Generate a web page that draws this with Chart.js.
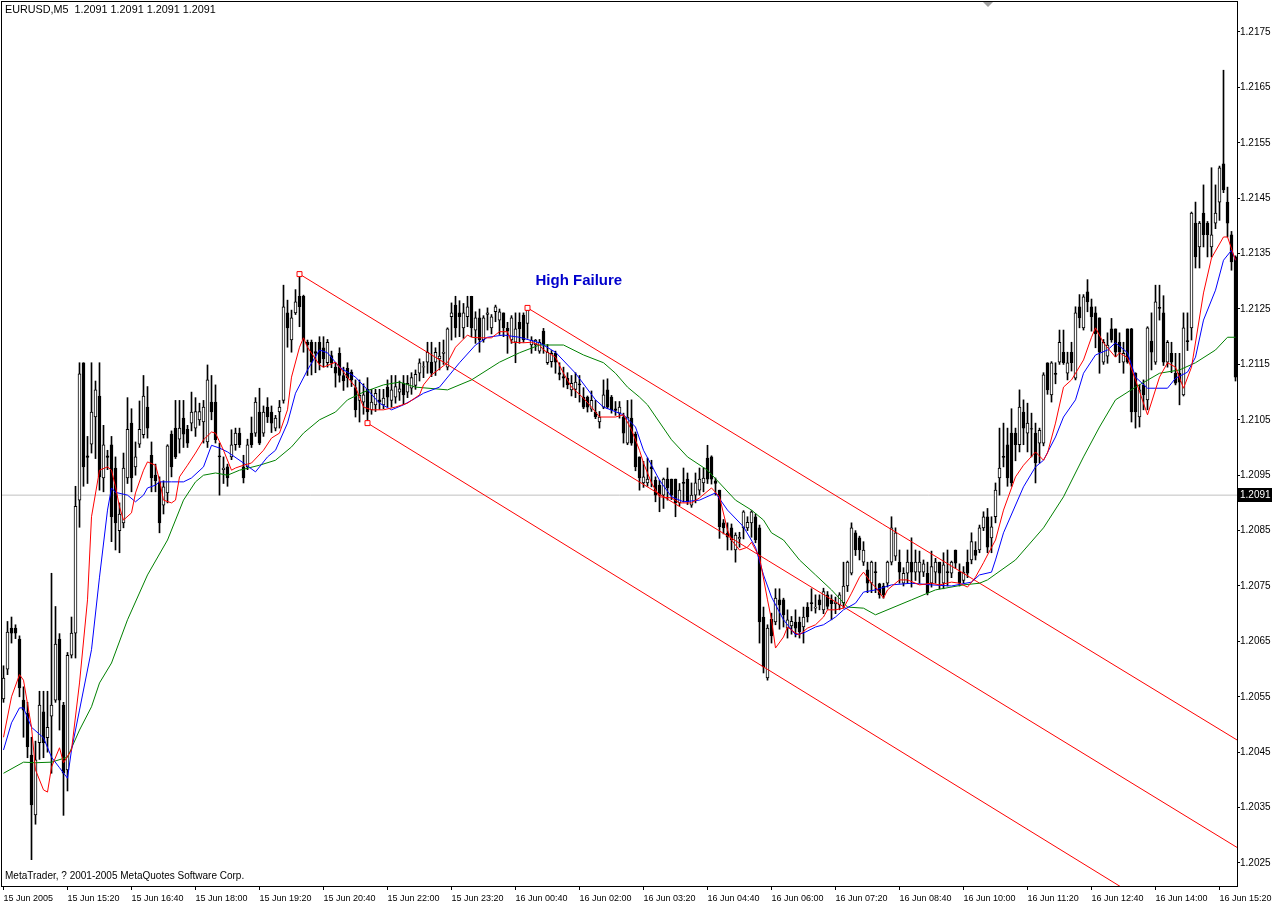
<!DOCTYPE html>
<html>
<head>
<meta charset="utf-8">
<script src="https://cdn.jsdelivr.net/npm/chart.js@4.4.1/dist/chart.umd.min.js"></script>
<style>
  html, body { margin: 0; padding: 0; background: #fff; overflow: hidden; }
  canvas { display: block; }
</style>
</head>
<body>
<canvas id="chart" width="1272" height="901"></canvas>
<script>
/* EURUSD M5 candles, 15-16 Jun 2005 */

const FONT = '"Liberation Sans", Arial, sans-serif';

// time axis: one label every 16 bars
const tickBars = [0, 16, 32, 48, 64, 80, 96, 112, 128, 144, 160, 176, 192, 208, 224, 240, 256, 272, 288, 304];
const timeLabels = ['15 Jun 2005', '15 Jun 15:20', '15 Jun 16:40', '15 Jun 18:00', '15 Jun 19:20', '15 Jun 20:40',
  '15 Jun 22:00', '15 Jun 23:20', '16 Jun 00:40', '16 Jun 02:00', '16 Jun 03:20', '16 Jun 04:40', '16 Jun 06:00',
  '16 Jun 07:20', '16 Jun 08:40', '16 Jun 10:00', '16 Jun 11:20', '16 Jun 12:40', '16 Jun 14:00', '16 Jun 15:20'];

const priceTicks = [1.2025, 1.2035, 1.2045, 1.2055, 1.2065, 1.2075, 1.2085, 1.2095,
  1.2105, 1.2115, 1.2125, 1.2135, 1.2145, 1.2155, 1.2165, 1.2175];

const openP = [
  1.20546, 1.20600, 1.20674, 1.20674, 1.20654, 1.20544, 1.20520, 1.20445, 1.20337, 1.20467,
  1.20523, 1.20476, 1.20515, 1.20544, 1.20654, 1.20535, 1.20418, 1.20625, 1.20665, 1.20905,
  1.21153, 1.20985, 1.21006, 1.21055, 1.21093, 1.20945, 1.20985, 1.21005, 1.20963, 1.20850,
  1.20864, 1.20945, 1.21044, 1.20965, 1.21006, 1.21023, 1.21073, 1.20986, 1.20950, 1.20938,
  1.20896, 1.20918, 1.21024, 1.21035, 1.21015, 1.21053, 1.21033, 1.21044, 1.21035, 1.21050,
  1.21046, 1.21010, 1.21082, 1.21082, 1.20985, 1.20960, 1.20965, 1.20983, 1.21005, 1.21026,
  1.20965, 1.20965, 1.21026, 1.21026, 1.21064, 1.21026, 1.21073, 1.21064, 1.21035, 1.21064,
  1.21085, 1.21243, 1.21194, 1.21243, 1.21273, 1.21273, 1.21190, 1.21190, 1.21173, 1.21190,
  1.21180, 1.21153, 1.21166, 1.21145, 1.21170, 1.21130, 1.21143, 1.21136, 1.21108, 1.21085,
  1.21082, 1.21105, 1.21068, 1.21077, 1.21086, 1.21077, 1.21109, 1.21085, 1.21091, 1.21100,
  1.21116, 1.21100, 1.21107, 1.21112, 1.21134, 1.21145, 1.21154, 1.21154, 1.21154, 1.21160,
  1.21170, 1.21145, 1.21236, 1.21257, 1.21243, 1.21216, 1.21236, 1.21273, 1.21212, 1.21234,
  1.21194, 1.21240, 1.21216, 1.21245, 1.21230, 1.21243, 1.21215, 1.21194, 1.21190, 1.21226,
  1.21239, 1.21224, 1.21185, 1.21185, 1.21174, 1.21210, 1.21153, 1.21155, 1.21170, 1.21135,
  1.21128, 1.21125, 1.21104, 1.21105, 1.21115, 1.21091, 1.21091, 1.21069, 1.21064, 1.21046,
  1.21073, 1.21104, 1.21091, 1.21070, 1.21062, 1.21055, 1.21008, 1.21053, 1.21024, 1.20983,
  1.20936, 1.20936, 1.20965, 1.20941, 1.20932, 1.20914, 1.20943, 1.20943, 1.20943, 1.20900,
  1.20937, 1.20943, 1.20896, 1.20914, 1.20923, 1.20936, 1.20981, 1.20983, 1.20940, 1.20923,
  1.20864, 1.20845, 1.20855, 1.20815, 1.20835, 1.20855, 1.20855, 1.20864, 1.20875, 1.20855,
  1.20694, 1.20584, 1.20690, 1.20685, 1.20725, 1.20725, 1.20674, 1.20678, 1.20685, 1.20685,
  1.20676, 1.20712, 1.20720, 1.20710, 1.20725, 1.20707, 1.20734, 1.20725, 1.20718, 1.20716,
  1.20720, 1.20750, 1.20773, 1.20846, 1.20837, 1.20793, 1.20779, 1.20755, 1.20776, 1.20754,
  1.20750, 1.20755, 1.20793, 1.20804, 1.20793, 1.20755, 1.20773, 1.20793, 1.20775, 1.20775,
  1.20775, 1.20773, 1.20755, 1.20775, 1.20793, 1.20755, 1.20776, 1.20773, 1.20815, 1.20775,
  1.20760, 1.20793, 1.20797, 1.20815, 1.20815, 1.20855, 1.20875, 1.20837, 1.20875, 1.20945,
  1.20984, 1.21005, 1.21026, 1.21026, 1.21005, 1.21064, 1.21026, 1.21034, 1.21026, 1.21008,
  1.21008, 1.21153, 1.21095, 1.21134, 1.21154, 1.21172, 1.21134, 1.21172, 1.21125, 1.21254,
  1.21216, 1.21281, 1.21254, 1.21243, 1.21234, 1.21154, 1.21165, 1.21214, 1.21214, 1.21190,
  1.21154, 1.21214, 1.21214, 1.21134, 1.21055, 1.21113, 1.21086, 1.21192, 1.21154, 1.21253,
  1.21243, 1.21154, 1.21170, 1.21134, 1.21134, 1.21095, 1.21193, 1.21216, 1.21405, 1.21362,
  1.21423, 1.21405, 1.21362, 1.21405, 1.21443, 1.21512, 1.21443, 1.21384, 1.21344
];

const highP = [
  1.20606, 1.20686, 1.20694, 1.20680, 1.20660, 1.20568, 1.20540, 1.20477, 1.20470, 1.20560,
  1.20560, 1.20560, 1.20773, 1.20713, 1.20664, 1.20540, 1.20630, 1.20694, 1.20930, 1.21153,
  1.21153, 1.21020, 1.21153, 1.21120, 1.21153, 1.21040, 1.20995, 1.21020, 1.20983, 1.20900,
  1.20990, 1.21090, 1.21070, 1.21010, 1.21084, 1.21130, 1.21110, 1.21010, 1.20970, 1.20947,
  1.20940, 1.21005, 1.21030, 1.21085, 1.21085, 1.21085, 1.21040, 1.21100, 1.21090, 1.21080,
  1.21085, 1.21149, 1.21130, 1.21113, 1.21008, 1.20983, 1.20970, 1.21032, 1.21035, 1.21035,
  1.20986, 1.21015, 1.21055, 1.21090, 1.21107, 1.21075, 1.21090, 1.21075, 1.21058, 1.21085,
  1.21293, 1.21266, 1.21248, 1.21285, 1.21315, 1.21275, 1.21194, 1.21194, 1.21190, 1.21200,
  1.21200, 1.21195, 1.21174, 1.21153, 1.21180, 1.21145, 1.21153, 1.21140, 1.21122, 1.21122,
  1.21115, 1.21126, 1.21105, 1.21105, 1.21105, 1.21105, 1.21122, 1.21130, 1.21130, 1.21120,
  1.21130, 1.21130, 1.21135, 1.21140, 1.21160, 1.21155, 1.21190, 1.21190, 1.21180, 1.21190,
  1.21194, 1.21216, 1.21261, 1.21273, 1.21265, 1.21260, 1.21273, 1.21273, 1.21245, 1.21250,
  1.21238, 1.21252, 1.21240, 1.21257, 1.21250, 1.21243, 1.21226, 1.21238, 1.21243, 1.21243,
  1.21243, 1.21254, 1.21200, 1.21195, 1.21195, 1.21215, 1.21186, 1.21175, 1.21174, 1.21153,
  1.21145, 1.21135, 1.21130, 1.21135, 1.21130, 1.21108, 1.21093, 1.21102, 1.21085, 1.21065,
  1.21122, 1.21124, 1.21094, 1.21083, 1.21083, 1.21062, 1.21085, 1.21086, 1.21028, 1.20983,
  1.20975, 1.20981, 1.20977, 1.20947, 1.20941, 1.20945, 1.20963, 1.20943, 1.20943, 1.20935,
  1.20963, 1.20954, 1.20936, 1.20954, 1.20963, 1.20963, 1.21004, 1.20985, 1.20945, 1.20923,
  1.20870, 1.20864, 1.20862, 1.20846, 1.20847, 1.20886, 1.20875, 1.20886, 1.20880, 1.20860,
  1.20712, 1.20680, 1.20701, 1.20745, 1.20745, 1.20728, 1.20707, 1.20695, 1.20707, 1.20694,
  1.20712, 1.20720, 1.20745, 1.20734, 1.20734, 1.20746, 1.20740, 1.20734, 1.20730, 1.20738,
  1.20793, 1.20795, 1.20864, 1.20850, 1.20840, 1.20830, 1.20793, 1.20795, 1.20793, 1.20755,
  1.20755, 1.20795, 1.20875, 1.20855, 1.20815, 1.20783, 1.20815, 1.20837, 1.20815, 1.20813,
  1.20797, 1.20793, 1.20813, 1.20800, 1.20793, 1.20810, 1.20815, 1.20795, 1.20815, 1.20790,
  1.20785, 1.20815, 1.20846, 1.20830, 1.20860, 1.20884, 1.20890, 1.20875, 1.20936, 1.21035,
  1.21044, 1.21035, 1.21070, 1.21035, 1.21104, 1.21086, 1.21080, 1.21062, 1.21044, 1.21035,
  1.21135, 1.21153, 1.21155, 1.21153, 1.21212, 1.21212, 1.21172, 1.21190, 1.21254, 1.21276,
  1.21276, 1.21303, 1.21268, 1.21254, 1.21234, 1.21195, 1.21207, 1.21233, 1.21214, 1.21207,
  1.21190, 1.21214, 1.21215, 1.21135, 1.21113, 1.21122, 1.21218, 1.21243, 1.21293, 1.21293,
  1.21274, 1.21193, 1.21190, 1.21170, 1.21170, 1.21243, 1.21243, 1.21425, 1.21443, 1.21408,
  1.21474, 1.21408, 1.21505, 1.21474, 1.21508, 1.21681, 1.21470, 1.21390, 1.21346
];

const lowP = [
  1.20540, 1.20590, 1.20647, 1.20655, 1.20550, 1.20477, 1.20440, 1.20256, 1.20320, 1.20437,
  1.20440, 1.20450, 1.20412, 1.20540, 1.20490, 1.20336, 1.20380, 1.20620, 1.20620, 1.20856,
  1.20930, 1.20935, 1.20990, 1.20980, 1.20923, 1.20920, 1.20960, 1.20830, 1.20815, 1.20810,
  1.20855, 1.20935, 1.20920, 1.20950, 1.21000, 1.21017, 1.21017, 1.20920, 1.20920, 1.20846,
  1.20880, 1.20900, 1.20947, 1.20980, 1.20990, 1.21000, 1.21000, 1.21030, 1.21020, 1.21040,
  1.21008, 1.21000, 1.21050, 1.21008, 1.20914, 1.20935, 1.20930, 1.20978, 1.20995, 1.21000,
  1.20936, 1.20960, 1.21000, 1.21020, 1.21005, 1.21020, 1.21045, 1.21027, 1.21030, 1.21035,
  1.21080, 1.21181, 1.21172, 1.21240, 1.21218, 1.21172, 1.21130, 1.21131, 1.21135, 1.21140,
  1.21145, 1.21145, 1.21144, 1.21109, 1.21118, 1.21103, 1.21109, 1.21110, 1.21055, 1.21046,
  1.21060, 1.21044, 1.21060, 1.21065, 1.21069, 1.21070, 1.21073, 1.21073, 1.21080, 1.21085,
  1.21078, 1.21090, 1.21096, 1.21105, 1.21120, 1.21126, 1.21134, 1.21128, 1.21130, 1.21140,
  1.21150, 1.21140, 1.21194, 1.21199, 1.21200, 1.21197, 1.21218, 1.21200, 1.21188, 1.21172,
  1.21190, 1.21212, 1.21205, 1.21227, 1.21204, 1.21200, 1.21170, 1.21188, 1.21153, 1.21188,
  1.21190, 1.21197, 1.21170, 1.21175, 1.21170, 1.21170, 1.21150, 1.21145, 1.21134, 1.21122,
  1.21109, 1.21106, 1.21093, 1.21090, 1.21082, 1.21070, 1.21064, 1.21065, 1.21052, 1.21035,
  1.21070, 1.21070, 1.21062, 1.21058, 1.21053, 1.21008, 1.21005, 1.21004, 1.20958, 1.20923,
  1.20928, 1.20930, 1.20929, 1.20902, 1.20884, 1.20890, 1.20905, 1.20906, 1.20875, 1.20895,
  1.20902, 1.20897, 1.20892, 1.20900, 1.20914, 1.20920, 1.20935, 1.20934, 1.20914, 1.20836,
  1.20844, 1.20815, 1.20815, 1.20793, 1.20820, 1.20835, 1.20850, 1.20838, 1.20828, 1.20647,
  1.20593, 1.20580, 1.20647, 1.20680, 1.20672, 1.20676, 1.20656, 1.20663, 1.20658, 1.20656,
  1.20647, 1.20685, 1.20705, 1.20701, 1.20707, 1.20700, 1.20708, 1.20689, 1.20700, 1.20707,
  1.20710, 1.20740, 1.20770, 1.20805, 1.20797, 1.20787, 1.20738, 1.20738, 1.20738, 1.20728,
  1.20728, 1.20748, 1.20788, 1.20796, 1.20755, 1.20750, 1.20755, 1.20748, 1.20760, 1.20755,
  1.20767, 1.20734, 1.20748, 1.20755, 1.20745, 1.20745, 1.20750, 1.20765, 1.20782, 1.20750,
  1.20755, 1.20765, 1.20790, 1.20797, 1.20810, 1.20850, 1.20810, 1.20810, 1.20864, 1.20914,
  1.20965, 1.20930, 1.20930, 1.20976, 1.20992, 1.21005, 1.20992, 1.20983, 1.20936, 1.20972,
  1.21003, 1.21096, 1.21082, 1.21115, 1.21150, 1.21150, 1.21122, 1.21138, 1.21122, 1.21216,
  1.21212, 1.21245, 1.21210, 1.21180, 1.21134, 1.21150, 1.21152, 1.21190, 1.21164, 1.21153,
  1.21134, 1.21152, 1.21046, 1.21035, 1.21037, 1.21068, 1.21068, 1.21140, 1.21150, 1.21230,
  1.21148, 1.21145, 1.21135, 1.21113, 1.21077, 1.21093, 1.21175, 1.21194, 1.21324, 1.21324,
  1.21362, 1.21344, 1.21344, 1.21395, 1.21410, 1.21460, 1.21380, 1.21320, 1.21120
];

const closeP = [
  1.20584, 1.20667, 1.20665, 1.20665, 1.20566, 1.20526, 1.20460, 1.20355, 1.20436, 1.20535,
  1.20467, 1.20495, 1.20535, 1.20645, 1.20544, 1.20412, 1.20625, 1.20665, 1.20894, 1.21133,
  1.20965, 1.20982, 1.21064, 1.21104, 1.20947, 1.21005, 1.20982, 1.20875, 1.20864, 1.20880,
  1.20963, 1.21033, 1.20945, 1.20983, 1.21033, 1.21093, 1.21035, 1.20945, 1.20940, 1.20864,
  1.20929, 1.21003, 1.20965, 1.20983, 1.21035, 1.21024, 1.21008, 1.21064, 1.21065, 1.21065,
  1.21073, 1.21122, 1.21064, 1.21014, 1.20983, 1.20963, 1.20945, 1.21005, 1.21026, 1.21005,
  1.20945, 1.21005, 1.21005, 1.21082, 1.21008, 1.21064, 1.21055, 1.21044, 1.21053, 1.21073,
  1.21254, 1.21216, 1.21234, 1.21263, 1.21254, 1.21194, 1.21185, 1.21154, 1.21170, 1.21153,
  1.21160, 1.21190, 1.21152, 1.21134, 1.21130, 1.21120, 1.21126, 1.21122, 1.21068, 1.21094,
  1.21095, 1.21064, 1.21082, 1.21098, 1.21082, 1.21089, 1.21091, 1.21104, 1.21110, 1.21106,
  1.21095, 1.21116, 1.21126, 1.21132, 1.21153, 1.21146, 1.21172, 1.21134, 1.21172, 1.21165,
  1.21172, 1.21214, 1.21243, 1.21216, 1.21236, 1.21243, 1.21254, 1.21216, 1.21234, 1.21194,
  1.21234, 1.21243, 1.21236, 1.21254, 1.21245, 1.21216, 1.21210, 1.21234, 1.21214, 1.21214,
  1.21194, 1.21248, 1.21194, 1.21194, 1.21190, 1.21186, 1.21172, 1.21170, 1.21154, 1.21132,
  1.21125, 1.21113, 1.21116, 1.21118, 1.21113, 1.21073, 1.21073, 1.21085, 1.21055, 1.21055,
  1.21095, 1.21073, 1.21068, 1.21067, 1.21073, 1.21026, 1.21055, 1.21008, 1.20965, 1.20945,
  1.20947, 1.20943, 1.20962, 1.20914, 1.20914, 1.20943, 1.20927, 1.20914, 1.20900, 1.20923,
  1.20935, 1.20902, 1.20914, 1.20936, 1.20943, 1.20945, 1.20943, 1.20943, 1.20935, 1.20857,
  1.20855, 1.20838, 1.20833, 1.20842, 1.20838, 1.20884, 1.20865, 1.20884, 1.20833, 1.20685,
  1.20604, 1.20674, 1.20660, 1.20728, 1.20716, 1.20698, 1.20689, 1.20686, 1.20674, 1.20667,
  1.20694, 1.20694, 1.20718, 1.20712, 1.20716, 1.20740, 1.20713, 1.20718, 1.20721, 1.20734,
  1.20750, 1.20793, 1.20855, 1.20815, 1.20815, 1.20815, 1.20755, 1.20793, 1.20774, 1.20734,
  1.20734, 1.20793, 1.20855, 1.20846, 1.20775, 1.20773, 1.20793, 1.20775, 1.20793, 1.20793,
  1.20790, 1.20738, 1.20785, 1.20793, 1.20773, 1.20788, 1.20774, 1.20793, 1.20791, 1.20755,
  1.20775, 1.20773, 1.20830, 1.20805, 1.20855, 1.20875, 1.20820, 1.20857, 1.20923, 1.20963,
  1.20982, 1.20945, 1.20936, 1.21005, 1.21073, 1.21035, 1.21044, 1.21033, 1.20972, 1.21031,
  1.21131, 1.21104, 1.21153, 1.21132, 1.21190, 1.21153, 1.21153, 1.21153, 1.21243, 1.21234,
  1.21272, 1.21263, 1.21236, 1.21205, 1.21172, 1.21190, 1.21185, 1.21194, 1.21172, 1.21172,
  1.21170, 1.21154, 1.21064, 1.21064, 1.21104, 1.21095, 1.21216, 1.21172, 1.21263, 1.21251,
  1.21154, 1.21190, 1.21154, 1.21116, 1.21118, 1.21216, 1.21191, 1.21423, 1.21344, 1.21405,
  1.21384, 1.21384, 1.21384, 1.21423, 1.21505, 1.21465, 1.21405, 1.21335, 1.21127
];

// moving averages as drawn on the chart: [bar, price]
const fastMa = [
  [0,1.20477],[2,1.20550],[4,1.20590],[5,1.20580],[7,1.20495],[8,1.20418],[10,1.20382],[11,1.20378],[12,1.20423],[14,1.20458],
  [15,1.20431],[17,1.20454],[19,1.20575],[21,1.20725],[22,1.20875],[24,1.20959],[26,1.20965],[27,1.20959],[28,1.20929],[29,1.20893],
  [30,1.20869],[32,1.20882],[33,1.20918],[35,1.20959],[36,1.20974],[38,1.20968],[39,1.20941],[40,1.20905],[42,1.20900],[43,1.20905],
  [44,1.20947],[46,1.20968],[48,1.20990],[50,1.21014],[52,1.21028],[53,1.21026],[55,1.20995],[57,1.20959],[58,1.20963],[60,1.20968],
  [62,1.20972],[65,1.20995],[67,1.21017],[69,1.21026],[71,1.21068],[72,1.21127],[74,1.21181],[75,1.21198],[76,1.21181],[79,1.21149],
  [80,1.21145],[83,1.21154],[85,1.21136],[88,1.21109],[90,1.21073],[92,1.21068],[95,1.21068],[98,1.21073],[101,1.21080],[104,1.21095],
  [105,1.21113],[107,1.21131],[111,1.21153],[113,1.21181],[116,1.21203],[117,1.21199],[119,1.21198],[122,1.21198],[124,1.21209],[126,1.21209],
  [127,1.21190],[130,1.21189],[132,1.21190],[134,1.21185],[135,1.21176],[138,1.21163],[140,1.21134],[142,1.21109],[145,1.21089],[147,1.21073],
  [149,1.21055],[153,1.21055],[155,1.21059],[157,1.21032],[159,1.20995],[160,1.20972],[162,1.20936],[164,1.20911],[167,1.20909],[169,1.20900],
  [172,1.20900],[174,1.20909],[177,1.20927],[179,1.20911],[181,1.20851],[182,1.20833],[184,1.20815],[186,1.20820],[187,1.20829],[189,1.20802],
  [191,1.20725],[192,1.20689],[193,1.20638],[195,1.20658],[196,1.20676],[198,1.20665],[199,1.20662],[201,1.20674],[203,1.20680],[205,1.20694],
  [206,1.20707],[208,1.20707],[210,1.20710],[212,1.20737],[214,1.20766],[215,1.20775],[217,1.20755],[218,1.20748],[220,1.20728],[221,1.20743],
  [224,1.20761],[226,1.20761],[229,1.20752],[232,1.20755],[234,1.20752],[237,1.20757],[239,1.20755],[241,1.20748],[243,1.20766],[245,1.20792],
  [246,1.20806],[248,1.20833],[250,1.20887],[253,1.20947],[255,1.20968],[258,1.20992],[260,1.20977],[261,1.20990],[263,1.21044],[265,1.21109],
  [267,1.21122],[270,1.21158],[272,1.21199],[273,1.21216],[275,1.21189],[278,1.21163],[279,1.21171],[281,1.21162],[283,1.21122],[286,1.21059],
  [289,1.21127],[291,1.21153],[293,1.21145],[295,1.21107],[297,1.21145],[300,1.21279],[302,1.21342],[305,1.21380],[306,1.21380],[308,1.21338]
];

const midMa = [
  [0,1.20454],[2,1.20503],[4,1.20530],[5,1.20530],[7,1.20495],[10,1.20476],[12,1.20441],[14,1.20422],[16,1.20403],[17,1.20454],
  [19,1.20526],[22,1.20635],[24,1.20766],[26,1.20887],[27,1.20927],[28,1.20919],[31,1.20914],[33,1.20902],[35,1.20914],[36,1.20927],
  [38,1.20932],[39,1.20938],[42,1.20938],[45,1.20938],[47,1.20945],[50,1.20965],[52,1.21004],[54,1.20999],[56,1.20992],[60,1.20972],
  [63,1.20956],[66,1.20983],[68,1.20995],[71,1.21044],[73,1.21098],[76,1.21140],[79,1.21176],[81,1.21171],[84,1.21145],[88,1.21127],
  [91,1.21104],[94,1.21080],[97,1.21068],[100,1.21077],[103,1.21089],[105,1.21098],[109,1.21109],[114,1.21153],[118,1.21185],[121,1.21199],
  [125,1.21203],[129,1.21199],[134,1.21189],[138,1.21172],[143,1.21134],[148,1.21086],[150,1.21073],[155,1.21059],[158,1.21037],[160,1.20995],
  [164,1.20941],[167,1.20911],[170,1.20902],[174,1.20905],[178,1.20918],[181,1.20887],[185,1.20857],[188,1.20820],[190,1.20770],[192,1.20730],
  [195,1.20689],[198,1.20662],[200,1.20665],[203,1.20676],[205,1.20680],[208,1.20694],[210,1.20707],[213,1.20719],[215,1.20739],[218,1.20743],
  [222,1.20752],[227,1.20755],[232,1.20752],[237,1.20750],[242,1.20757],[244,1.20770],[247,1.20775],[248,1.20797],[250,1.20846],[255,1.20929],
  [258,1.20965],[260,1.20977],[263,1.21019],[265,1.21055],[268,1.21086],[270,1.21134],[273,1.21167],[276,1.21176],[278,1.21189],[281,1.21171],
  [283,1.21127],[286,1.21107],[288,1.21107],[291,1.21107],[293,1.21125],[296,1.21136],[298,1.21163],[300,1.21230],[303,1.21284],[305,1.21338],
  [307,1.21356],[308,1.21338]
];

const slowMa = [
  [0,1.20412],[5,1.20432],[8,1.20431],[12,1.20432],[16,1.20441],[19,1.20490],[22,1.20532],[24,1.20575],[27,1.20611],[31,1.20689],
  [36,1.20770],[41,1.20833],[45,1.20905],[48,1.20938],[50,1.20950],[53,1.20954],[56,1.20950],[59,1.20959],[64,1.20968],[68,1.20977],
  [72,1.21001],[75,1.21026],[79,1.21050],[83,1.21064],[86,1.21086],[90,1.21100],[95,1.21113],[99,1.21118],[103,1.21109],[111,1.21104],
  [117,1.21122],[124,1.21154],[129,1.21171],[134,1.21185],[140,1.21185],[145,1.21167],[150,1.21153],[153,1.21134],[156,1.21109],[159,1.21091],
  [161,1.21077],[167,1.21014],[171,1.20983],[176,1.20959],[179,1.20936],[183,1.20905],[187,1.20887],[190,1.20869],[192,1.20846],[195,1.20833],
  [199,1.20797],[203,1.20770],[207,1.20743],[211,1.20712],[215,1.20710],[218,1.20698],[227,1.20725],[233,1.20743],[240,1.20752],[244,1.20755],
  [246,1.20761],[253,1.20797],[260,1.20855],[265,1.20911],[270,1.20983],[274,1.21037],[278,1.21086],[283,1.21109],[289,1.21134],[294,1.21140],
  [298,1.21153],[303,1.21176],[306,1.21199],[308,1.21199]
];

// equidistant channel: anchor bar/price -> end bar/price
const channelStart = [[74, 1.21313], [91, 1.21044], [131, 1.21252]];
const channelEnd = [[308.4, 1.20278], [280, 1.20204], [308.4, 1.20472]];

const lastPrice = 1.20914;
const titleText = 'EURUSD,M5  1.2091 1.2091 1.2091 1.2091';
const footerText = 'MetaTrader, ? 2001-2005 MetaQuotes Software Corp.';
const noteText = 'High Failure';
const noteAt = [133, 1.21301];

const bodyData = openP.map((o, i) => ({ x: i, y: [o, closeP[i]] }));
const bodyFill = openP.map((o, i) => (closeP[i] >= o ? '#ffffff' : '#000000'));
const wickData = highP.map((h, i) => ({ x: i, y: [lowP[i], h] }));
const pts = arr => arr.map(([x, y]) => ({ x, y }));

const X_MIN = -0.375, X_MAX = 308.375;

const channelSets = channelStart.map((s, k) => ({
  type: 'line',
  data: pts([s, channelEnd[k]]),
  borderColor: '#ff0000',
  borderWidth: 1,
  pointStyle: 'rect',
  pointRadius: [3.5, 0],
  pointBackgroundColor: '#ffffff',
  pointBorderColor: '#ff0000',
  pointBorderWidth: 1,
  tension: 0
}));

// texts, frame and the current price tag
const overlay = {
  id: 'overlay',
  afterDraw(chart) {
    const { ctx, chartArea: a, scales } = chart;
    ctx.save();
    ctx.strokeStyle = '#000';
    ctx.lineWidth = 1;
    ctx.strokeRect(a.left - 0.5, a.top - 0.5, a.right - a.left + 1, a.bottom - a.top + 1);

    const py = Math.round(scales.y.getPixelForValue(lastPrice));
    ctx.fillStyle = '#000';
    ctx.fillRect(a.right + 1, py - 7, chart.width - a.right - 1, 14);
    ctx.fillStyle = '#fff';
    ctx.font = '10px ' + FONT;
    ctx.textBaseline = 'middle';
    ctx.fillText(lastPrice.toFixed(4), a.right + 3, py + 0.5);

    ctx.fillStyle = '#000';
    ctx.font = '10.8px ' + FONT;
    ctx.fillText(titleText, 5, 10);
    ctx.font = '10px ' + FONT;
    ctx.fillText(footerText, 5, 876);

    ctx.fillStyle = '#0000cc';
    ctx.font = 'bold 15px ' + FONT;
    ctx.fillText(noteText, scales.x.getPixelForValue(noteAt[0]), scales.y.getPixelForValue(noteAt[1]));

    // chart shift marker
    ctx.fillStyle = '#a0a0a0';
    ctx.beginPath();
    ctx.moveTo(983, a.top);
    ctx.lineTo(993, a.top);
    ctx.lineTo(988, a.top + 5);
    ctx.closePath();
    ctx.fill();
    ctx.restore();
  }
};

new Chart(document.getElementById('chart'), {
  type: 'bar',
  data: {
    datasets: [
      { type: 'line', data: pts(fastMa), borderColor: '#ff0000', borderWidth: 1, pointRadius: 0, tension: 0 },
      { type: 'line', data: pts(midMa), borderColor: '#0000ff', borderWidth: 1, pointRadius: 0, tension: 0 },
      { type: 'line', data: pts(slowMa), borderColor: '#008000', borderWidth: 1, pointRadius: 0, tension: 0 },
      ...channelSets,
      {
        type: 'bar', data: bodyData, backgroundColor: bodyFill, borderColor: '#000000',
        borderWidth: 1, borderSkipped: false, barThickness: 3, grouped: false
      },
      { type: 'bar', data: wickData, backgroundColor: '#000000', borderWidth: 0, barThickness: 1, grouped: false },
      {
        type: 'line', data: [{ x: X_MIN, y: lastPrice }, { x: X_MAX, y: lastPrice }],
        borderColor: '#c0c0c0', borderWidth: 1, pointRadius: 0
      }
    ]
  },
  options: {
    responsive: false,
    animation: false,
    devicePixelRatio: 1,
    layout: { autoPadding: false, padding: { left: 2, top: 2, right: 0, bottom: 0 } },
    plugins: { legend: { display: false }, tooltip: { enabled: false } },
    scales: {
      x: {
        type: 'linear',
        min: X_MIN,
        max: X_MAX,
        offset: false,
        afterBuildTicks: s => { s.ticks = tickBars.map(v => ({ value: v })); },
        afterFit: s => { s.height = 15; s.paddingLeft = 0; s.paddingRight = 0; },
        grid: { display: true, offset: false, drawOnChartArea: false, drawTicks: true, tickLength: 4, color: '#000' },
        border: { display: true, color: '#000' },
        ticks: {
          callback: (v, i) => timeLabels[i],
          align: 'start',
          maxRotation: 0,
          autoSkip: false,
          padding: 3,
          color: '#000',
          font: { family: FONT, size: 9 }
        }
      },
      y: {
        type: 'linear',
        position: 'right',
        min: 1.2020848,
        max: 1.2180415,
        afterBuildTicks: s => { s.ticks = priceTicks.map(v => ({ value: v })); },
        afterFit: s => { s.width = 35; s.paddingTop = 0; s.paddingBottom = 0; },
        grid: { display: true, drawOnChartArea: false, drawTicks: true, tickLength: 3, color: '#000' },
        border: { display: true, color: '#000' },
        ticks: {
          callback: v => v.toFixed(4),
          padding: 0,
          color: '#000',
          font: { family: FONT, size: 10 }
        }
      }
    }
  },
  plugins: [overlay]
});
</script>
</body>
</html>
